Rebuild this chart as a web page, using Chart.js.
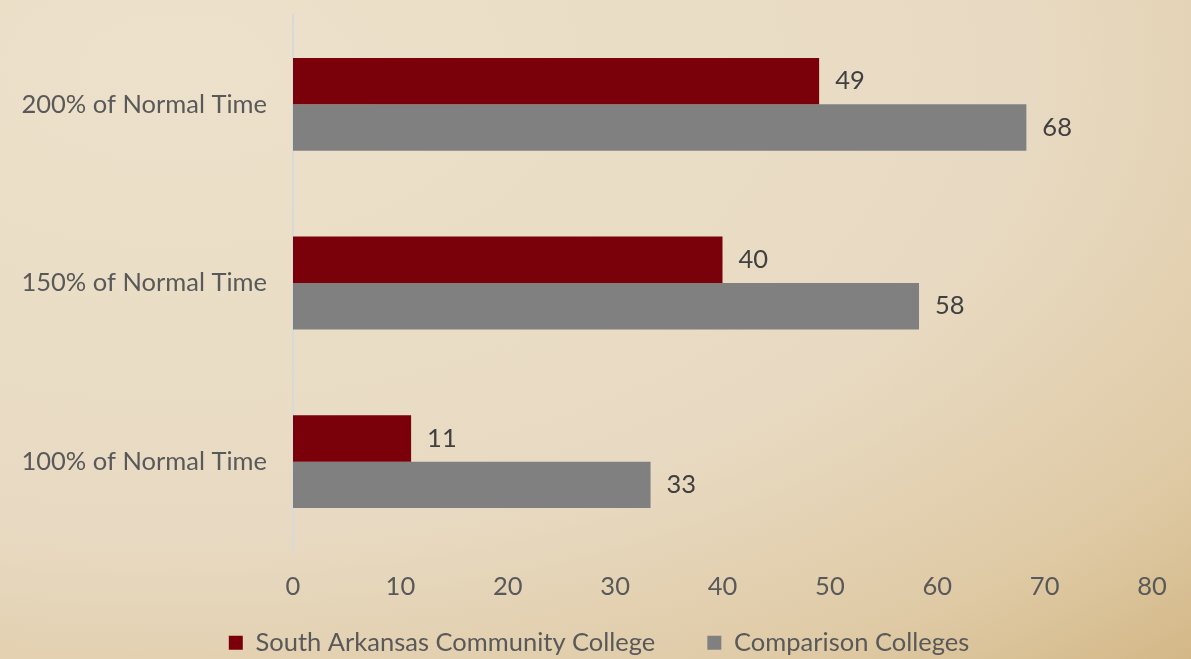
<!DOCTYPE html>
<html>
<head>
<meta charset="utf-8">
<script src="https://cdn.jsdelivr.net/npm/chart.js@4/dist/chart.umd.min.js"></script>
<style>
  html, body { margin: 0; padding: 0; }
  body {
    width: 1191px; height: 659px; overflow: hidden;
    background: radial-gradient(ellipse 130% 130% at 15% 10%, #ede1cb 0%, #e8dac2 55%, #dfcaa5 80%, #d0b27e 100%);
  }
  #wrap { position: relative; width: 1191px; height: 659px; }
</style>
</head>
<body>
<div id="wrap"><canvas id="gradChart"></canvas></div>
<script>
// 数据（标签显示取整）
const categories = ['200% of Normal Time', '150% of Normal Time', '100% of Normal Time'];
const seriesNames = ['South Arkansas Community College', 'Comparison Colleges'];
const sauValues = [49, 40, 11];
const comparisonValues = [68.3, 58.3, 33.3];
const xTicks = [0, 10, 20, 30, 40, 50, 60, 70, 80];

const fontFamily = 'Lato, "Open Sans", sans-serif';
const fontSize = 25.5;

// 柱子末端的数值标签
const valueLabels = {
  id: 'valueLabels',
  afterDatasetsDraw(chart) {
    const ctx = chart.ctx;
    ctx.save();
    ctx.font = fontSize + 'px ' + fontFamily;
    ctx.fillStyle = '#404040';
    ctx.textAlign = 'left';
    ctx.textBaseline = 'middle';
    chart.data.datasets.forEach((ds, i) => {
      chart.getDatasetMeta(i).data.forEach((bar, j) => {
        ctx.fillText(String(Math.round(ds.data[j])), bar.x + 16, bar.y);
      });
    });
    ctx.restore();
  }
};

// 轴的占位被压缩了，把标签的裁剪区域放宽
const unclipLabels = {
  id: 'unclipLabels',
  afterLayout(chart) {
    chart.scales.x.bottom = chart.height;
    chart.scales.y.left = 0;
  }
};

new Chart(document.getElementById('gradChart'), {
  type: 'bar',
  data: {
    labels: categories,
    datasets: [
      { label: seriesNames[0], data: sauValues, backgroundColor: '#7a0009' },
      { label: seriesNames[1], data: comparisonValues, backgroundColor: '#808080' }
    ]
  },
  options: {
    indexAxis: 'y',
    responsive: true,
    maintainAspectRatio: false,
    animation: false,
    layout: { padding: { top: 15, left: 46, right: 39, bottom: 0 } },
    datasets: { bar: { categoryPercentage: 0.52, barPercentage: 1.0 } },
    scales: {
      x: {
        min: 0, max: 80,
        afterBuildTicks(axis) { axis.ticks = xTicks.map(v => ({ value: v })); },
        afterFit(scale) { scale.height = 27; },
        grid: { display: false },
        border: { display: false },
        ticks: { color: '#595959', font: { family: fontFamily, size: fontSize }, padding: 12 }
      },
      y: {
        afterFit(scale) { scale.width = 247; scale.paddingTop = 0; scale.paddingBottom = 0; },
        grid: { display: false },
        border: { display: true, color: '#d9d9d9', width: 2 },
        ticks: { color: '#595959', font: { family: fontFamily, size: fontSize }, padding: 18 }
      }
    },
    plugins: {
      legend: {
        position: 'bottom',
        maxHeight: 81,
        labels: {
          color: '#595959',
          font: { family: fontFamily, size: fontSize },
          boxWidth: 14, boxHeight: 14,
          padding: 52
        }
      },
      tooltip: { enabled: false }
    }
  },
  plugins: [valueLabels, unclipLabels]
});
</script>
</body>
</html>
